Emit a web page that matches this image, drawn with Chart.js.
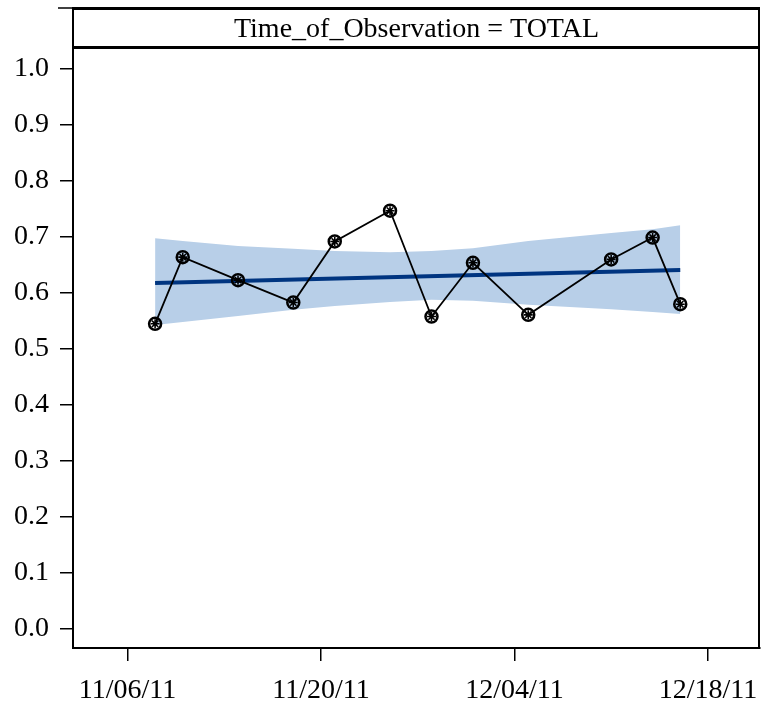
<!DOCTYPE html>
<html>
<head>
<meta charset="utf-8">
<script src="https://cdn.jsdelivr.net/npm/chart.js@4"></script>
<style>
  html,body{margin:0;padding:0;background:#fff;}
  canvas{display:block;}
</style>
</head>
<body>
<canvas id="chart" width="761" height="706"></canvas>
<script>
// days counted from 11/06/11
const obsDays   = [2, 4, 8, 12, 15, 19, 22, 25, 29, 35, 38, 40];
const obsValues = [0.545, 0.664, 0.623, 0.583, 0.692, 0.747, 0.558, 0.654, 0.561, 0.660, 0.699, 0.580];
const bandUpper = [0.698, 0.693, 0.684, 0.679, 0.675, 0.673, 0.675, 0.680, 0.693, 0.707, 0.714, 0.721];
const bandLower = [0.543, 0.548, 0.559, 0.570, 0.577, 0.584, 0.588, 0.586, 0.579, 0.571, 0.566, 0.5625];
const fitDays   = [2, 40];
const fitValues = [0.618, 0.641];
const xTickDays   = [0, 14, 28, 42];
const xTickLabels = ['11/06/11', '11/20/11', '12/04/11', '12/18/11'];
const yTickValues = [0, 0.1, 0.2, 0.3, 0.4, 0.5, 0.6, 0.7, 0.8, 0.9, 1.0];
const panelTitle  = 'Time_of_Observation = TOTAL';

const pts = (xs, ys) => xs.map((x, i) => ({ x, y: ys[i] }));

const panelFrame = {
  id: 'panelFrame',
  afterDraw(chart) {
    const { ctx, chartArea: a } = chart;
    ctx.save();
    ctx.strokeStyle = '#000';
    // right border
    ctx.lineWidth = 2;
    ctx.beginPath();
    ctx.moveTo(a.right - 1, a.top);
    ctx.lineTo(a.right - 1, a.bottom);
    ctx.stroke();
    // top line
    ctx.lineWidth = 1.5;
    ctx.beginPath();
    ctx.moveTo(58, a.top);
    ctx.lineTo(a.left, a.top);
    ctx.stroke();
    ctx.lineWidth = 3;
    ctx.beginPath();
    ctx.moveTo(a.left, a.top + 0.5);
    ctx.lineTo(a.right, a.top + 0.5);
    ctx.stroke();
    // header bottom line
    ctx.beginPath();
    ctx.moveTo(a.left, 47.5);
    ctx.lineTo(a.right, 47.5);
    ctx.stroke();
    // header text
    ctx.fillStyle = '#000';
    ctx.font = '28px "Liberation Serif"';
    ctx.textAlign = 'center';
    ctx.textBaseline = 'middle';
    ctx.fillText(panelTitle, (a.left + a.right) / 2, 30);
    ctx.restore();
  }
};

new Chart(document.getElementById('chart'), {
  type: 'line',
  data: {
    datasets: [
      {
        data: pts(obsDays, obsValues),
        showLine: false,
        pointStyle: 'star',
        pointRadius: 4.5,
        borderColor: '#000',
        borderWidth: 1.6,
        backgroundColor: '#000'
      },
      {
        data: pts(obsDays, obsValues),
        borderColor: '#000',
        borderWidth: 1.8,
        tension: 0,
        pointStyle: 'circle',
        pointRadius: 6,
        pointBorderWidth: 2.5,
        pointBorderColor: '#000',
        pointBackgroundColor: 'rgba(0,0,0,0)',
        fill: false
      },
      {
        data: pts(fitDays, fitValues),
        borderColor: '#003580',
        borderWidth: 4,
        pointRadius: 0,
        tension: 0,
        fill: false
      },
      {
        data: pts(obsDays, bandUpper),
        borderWidth: 0,
        borderColor: 'rgba(0,0,0,0)',
        backgroundColor: '#b8cfe8',
        pointRadius: 0,
        tension: 0,
        fill: '+1'
      },
      {
        data: pts(obsDays, bandLower),
        borderWidth: 0,
        borderColor: 'rgba(0,0,0,0)',
        pointRadius: 0,
        tension: 0,
        fill: false
      }
    ]
  },
  options: {
    responsive: false,
    animation: false,
    layout: { autoPadding: false, padding: { top: 8, right: 1, left: 0, bottom: 0 } },
    plugins: { legend: { display: false }, tooltip: { enabled: false }, title: { display: false } },
    scales: {
      x: {
        type: 'linear',
        min: -3.94,
        max: 45.77,
        afterBuildTicks: s => { s.ticks = xTickDays.map(v => ({ value: v })); },
        afterFit: s => { s.height = 58; s.paddingLeft = 0; s.paddingRight = 0; },
        ticks: {
          color: '#000',
          font: { family: 'Liberation Serif', size: 28 },
          padding: 13,
          maxRotation: 0,
          autoSkip: false,
          callback: v => xTickLabels[xTickDays.indexOf(v)]
        },
        grid: { drawOnChartArea: false, drawTicks: true, tickLength: 13, color: '#000', lineWidth: 1.5 },
        border: { display: true, color: '#000', width: 2 }
      },
      y: {
        min: -0.034,
        max: 1.109,
        afterBuildTicks: s => { s.ticks = yTickValues.map(v => ({ value: v })); },
        afterFit: s => { s.width = 73; s.paddingTop = 0; s.paddingBottom = 0; },
        ticks: {
          color: '#000',
          font: { family: 'Liberation Serif', size: 28 },
          padding: 11,
          autoSkip: false,
          callback: v => v.toFixed(1)
        },
        grid: { drawOnChartArea: false, drawTicks: true, tickLength: 13, color: '#000', lineWidth: 1.5 },
        border: { display: true, color: '#000', width: 2 }
      }
    }
  },
  plugins: [panelFrame]
});
</script>
</body>
</html>
